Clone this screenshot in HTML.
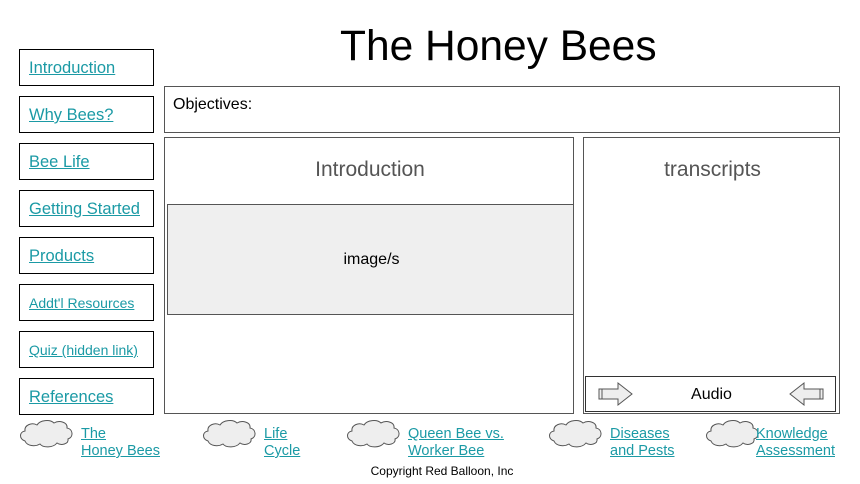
<!DOCTYPE html><html><head><style>
body{margin:0;width:860px;height:484px;background:#fff;font-family:"Liberation Sans",sans-serif;position:relative;overflow:hidden}
.a{position:absolute}
.nav{position:absolute;left:19px;width:133px;height:35px;border:1px solid #000;box-sizing:content-box}
.nav span{position:absolute;left:9px;bottom:7px;color:#1b9aa5;text-decoration:underline;font-size:16.5px}
.nav span.s{font-size:14px;bottom:9px}
.lk{position:absolute;color:#1b9aa5;text-decoration:underline;font-size:14.5px;line-height:17px}
.box{position:absolute;border:1px solid #555;box-sizing:border-box}
</style></head><body>
<div class="a" style="left:340px;top:23px;font-size:42.5px;">The Honey Bees</div>
<div class="nav" style="top:49px"><span>Introduction</span></div>
<div class="nav" style="top:96px"><span>Why Bees?</span></div>
<div class="nav" style="top:143px"><span>Bee Life</span></div>
<div class="nav" style="top:190px"><span>Getting Started</span></div>
<div class="nav" style="top:237px"><span>Products</span></div>
<div class="nav" style="top:284px"><span class="s">Addt'l Resources</span></div>
<div class="nav" style="top:331px"><span class="s">Quiz (hidden link)</span></div>
<div class="nav" style="top:378px"><span>References</span></div>
<div class="box" style="left:164px;top:86px;width:676px;height:47px"><div class="a" style="left:8px;top:9px;font-size:16px">Objectives:</div></div>
<div class="box" style="left:164px;top:137px;width:410px;height:277px"><div class="a" style="left:0;width:410px;text-align:center;top:20px;font-size:21px;color:#555">Introduction</div></div>
<div class="box" style="left:167px;top:204px;width:407px;height:111px;background:#efefef"><div class="a" style="left:0;width:407px;text-align:center;top:46px;font-size:16px">image/s</div></div>
<div class="box" style="left:583px;top:137px;width:257px;height:277px"><div class="a" style="left:0;width:257px;text-align:center;top:20px;font-size:21px;color:#555">transcripts</div></div>
<div class="box" style="left:585px;top:376px;width:251px;height:36px;border-color:#333"><div class="a" style="left:0;width:251px;text-align:center;top:9px;font-size:16px">Audio</div>
<svg class="a" style="left:10px;top:4px" width="40" height="26"><path d="M3 8H22V2L36 13L22 24V18H3Z" fill="#eee" stroke="#555"/><path d="M3 8V18M6 8V18" stroke="#555"/></svg>
<svg class="a" style="left:200px;top:4px" width="40" height="26"><path d="M37 8H18V2L4 13L18 24V18H37Z" fill="#eee" stroke="#555"/><path d="M37 8V18M34 8V18" stroke="#555"/></svg>
</div>
<svg width="860" height="484" class="a" style="left:0;top:0;pointer-events:none">
<defs><path id="c" d="M6 24C0 22 0 15 6 14C5 8 13 5 18 8C21 3 31 2 35 6C40 3 49 5 48 11C54 12 55 20 49 22C50 27 42 29 38 26C34 31 24 31 21 27C16 30 8 29 6 24Z" fill="#eee" stroke="#555" stroke-width="1"/></defs>
<use href="#c" x="19" y="417"/><use href="#c" x="202" y="417"/><use href="#c" x="346" y="417"/><use href="#c" x="548" y="417"/><use href="#c" x="705" y="417"/>
</svg>
<div class="lk" style="left:81px;top:426px">The<br>Honey Bees</div>
<div class="lk" style="left:264px;top:426px">Life<br>Cycle</div>
<div class="lk" style="left:408px;top:426px">Queen Bee vs.<br>Worker Bee</div>
<div class="lk" style="left:610px;top:426px">Diseases<br>and Pests</div>
<div class="lk" style="left:756px;top:426px">Knowledge<br>Assessment</div>
<div class="a" style="left:0;width:884px;text-align:center;top:464px;font-size:12px">Copyright Red Balloon, Inc</div>
</body></html>
